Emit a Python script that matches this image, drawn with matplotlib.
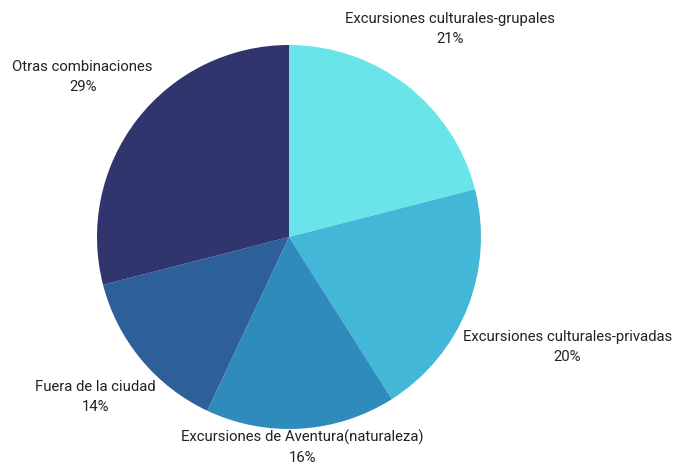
import matplotlib
matplotlib.use("Agg")
import matplotlib.pyplot as plt
import numpy as np

plt.rcParams['font.family'] = ['Roboto', 'DejaVu Sans']

categories = [
    "Excursiones culturales-grupales",
    "Excursiones culturales-privadas",
    "Excursiones de Aventura(naturaleza)",
    "Fuera de la ciudad",
    "Otras combinaciones",
]
shares = [21, 20, 16, 14, 29]
colors = ["#69E4E9", "#42B7D7", "#2E8BBC", "#2D5F99", "#31356E"]
# radial distance of each label centre, in units of the pie radius
label_radius = [1.37, 1.56, 1.10, 1.31, 1.36]

W, H = 681, 465
fig = plt.figure(figsize=(W / 100, H / 100), dpi=100)
cx, cy, R = 289, 465 - 237, 192
ax = fig.add_axes([(cx - R) / W, (cy - R) / H, 2 * R / W, 2 * R / H])

wedges, _ = ax.pie(shares, colors=colors, startangle=90, counterclock=False,
                   radius=1, wedgeprops=dict(linewidth=0))
ax.set_xlim(-1, 1)
ax.set_ylim(-1, 1)
ax.set_aspect('equal')
ax.axis('off')

total = sum(shares)
for w, name, val, lr in zip(wedges, categories, shares, label_radius):
    mid = np.deg2rad((w.theta1 + w.theta2) / 2)
    x, y = lr * np.cos(mid), lr * np.sin(mid)
    ax.text(x, y, f"{name}\n{round(100 * val / total)}%", ha='center', va='center',
            multialignment='center', fontsize=10.7, color='#222222',
            linespacing=1.55, clip_on=False)

fig.savefig("out.png", dpi=100)
